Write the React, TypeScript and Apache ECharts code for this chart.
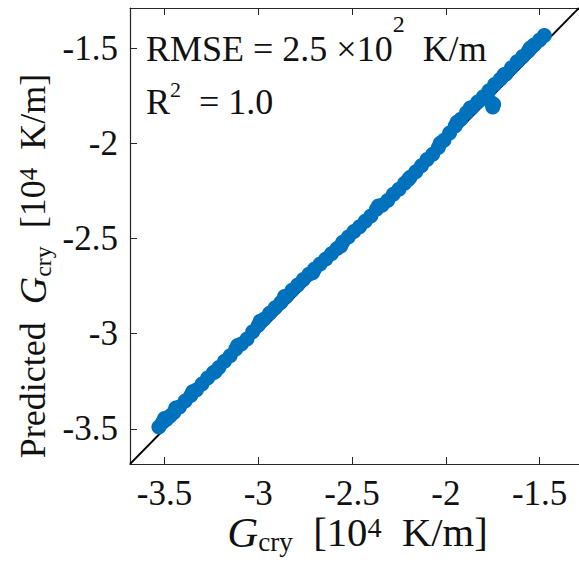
import React, { useEffect, useRef } from 'react';
import * as echarts from 'echarts';

const axisMin = -3.684;
const axisMax = -1.29;
const tickValues = [-3.5, -3, -2.5, -2, -1.5];

const actual = [
  -3.53, -3.51, -3.49, -3.47, -3.45, -3.42, -3.39, -3.36, -3.33, -3.3, -3.27, -3.24, -3.21, -3.18, -3.15,
  -3.12, -3.09, -3.06, -3.03, -3.0, -2.97, -2.94, -2.91, -2.88, -2.85, -2.82, -2.79, -2.76, -2.73, -2.7,
  -2.67, -2.64, -2.61, -2.58, -2.55, -2.52, -2.49, -2.46, -2.43, -2.4, -2.37, -2.34, -2.31, -2.28, -2.25,
  -2.22, -2.19, -2.16, -2.13, -2.1, -2.07, -2.04, -2.01, -1.98, -1.95, -1.92, -1.89, -1.86, -1.83, -1.8,
  -1.77, -1.74, -1.71, -1.68, -1.65, -1.62, -1.59, -1.56, -1.53, -1.5, -1.475, -1.75, -1.745, -1.76,
  -3.5, -3.44, -3.35, -3.23, -3.11, -2.99, -2.86, -2.71, -2.56, -2.36, -2.2, -2.03, -1.94, -1.87, -1.69, -1.55,
];
const predicted = [
  -3.49, -3.465, -3.45, -3.432, -3.414, -3.385, -3.353, -3.324, -3.296, -3.264, -3.232, -3.205, -3.177, -3.144, -3.116,
  -3.08, -3.054, -3.028, -2.99, -2.955, -2.924, -2.893, -2.864, -2.836, -2.804, -2.772, -2.744, -2.715, -2.688, -2.66,
  -2.634, -2.608, -2.58, -2.552, -2.52, -2.492, -2.464, -2.438, -2.41, -2.382, -2.346, -2.326, -2.3, -2.268, -2.242,
  -2.21, -2.178, -2.15, -2.118, -2.086, -2.058, -2.022, -1.984, -1.946, -1.91, -1.874, -1.84, -1.812, -1.784, -1.756,
  -1.724, -1.692, -1.664, -1.636, -1.604, -1.572, -1.544, -1.516, -1.484, -1.458, -1.435, -1.81, -1.795, -1.785,
  -3.445, -3.39, -3.305, -3.2, -3.062, -2.935, -2.805, -2.68, -2.54, -2.33, -2.19, -2.0, -1.89, -1.815, -1.64, -1.5,
];
const refLine = [axisMin, axisMax];

const serif = 'Liberation Serif, Times New Roman, serif';
const ink = '#111111';
const axisInk = '#262626';

function fmt(v: number) {
  return tickValues.some((t) => Math.abs(t - v) < 1e-6) ? String(v) : '';
}

function nameRich(scale: number) {
  const lh = 30;
  return {
    n: { fontFamily: serif, fontSize: 36 * scale, fill: ink, lineHeight: lh },
    i: { fontFamily: serif, fontSize: 38 * scale, fontStyle: 'italic', fill: ink, lineHeight: lh },
    sub: { fontFamily: serif, fontSize: 24 * scale, fill: ink, lineHeight: lh, padding: [20, 0, 0, 0] },
    sup: { fontFamily: serif, fontSize: 25 * scale, fill: ink, lineHeight: lh, padding: [0, 0, 10, 0] },
  };
}

export default function App() {
  const ref = useRef<HTMLDivElement>(null);
  useEffect(() => {
    const chart = echarts.init(ref.current!, null, { renderer: 'svg' });
    const axisCommon = {
      type: 'value' as const,
      min: axisMin,
      max: axisMax,
      splitNumber: 5,
      splitLine: { show: false },
      axisLine: { show: true, onZero: false, lineStyle: { color: axisInk, width: 1.2 } },
      axisTick: { show: true, inside: true, length: 7, lineStyle: { color: axisInk, width: 1 } },
    };
    const labelStyle = { fontFamily: serif, fontSize: 35, color: ink, formatter: fmt, showMinLabel: false, showMaxLabel: false };
    chart.setOption({
      animation: false,
      backgroundColor: '#ffffff',
      grid: { left: 130, top: 8, width: 455, height: 456, containLabel: false },
      xAxis: [
        { ...axisCommon, position: 'bottom', axisLabel: { ...labelStyle, margin: 14, lineHeight: 30 } },
        { ...axisCommon, position: 'top', axisLabel: { show: false } },
      ],
      yAxis: [
        { ...axisCommon, position: 'left', axisLabel: { ...labelStyle, margin: 12 } },
      ],
      series: [
        {
          type: 'line',
          data: refLine.map((v) => [v, v]),
          showSymbol: false,
          symbol: 'none',
          lineStyle: { color: '#000000', width: 1.8 },
          z: 1,
          silent: true,
        },
        {
          type: 'scatter',
          data: actual.map((a, k) => [a, predicted[k]]),
          symbolSize: 15,
          itemStyle: { color: '#0072BD', opacity: 1 },
          z: 2,
        },
      ],
      graphic: [
        {
          type: 'text',
          x: 146,
          y: 49,
          z: 10,
          style: {
            text: '{m|RMSE = 2.5 ×10}{s|2}{m|  K/m}',
            textAlign: 'left',
            textVerticalAlign: 'middle',
            rich: {
              m: { fontFamily: serif, fontSize: 36, fill: ink, lineHeight: 36 },
              s: { fontFamily: serif, fontSize: 24, fill: ink, lineHeight: 36, padding: [0, 0, 50, 0] },
            },
          },
        },
        {
          type: 'text',
          x: 146,
          y: 102,
          z: 10,
          style: {
            text: '{m|R}{s|2}{m|  = 1.0}',
            textAlign: 'left',
            textVerticalAlign: 'middle',
            rich: {
              m: { fontFamily: serif, fontSize: 36, fill: ink, lineHeight: 36 },
              s: { fontFamily: serif, fontSize: 22, fill: ink, lineHeight: 36, padding: [0, 0, 26, 0] },
            },
          },
        },
        {
          type: 'text',
          x: 357.5,
          y: 532,
          style: {
            text: '{i|G}{sub|cry}{n|  [10}{sup|4}{n|  K/m]}',
            textAlign: 'center',
            textVerticalAlign: 'middle',
            rich: nameRich(1.13),
          },
        },
        {
          type: 'text',
          x: 33,
          y: 266,
          rotation: Math.PI / 2,
          style: {
            text: '{n|Predicted  }{i|G}{sub|cry}{n|  [10}{sup|4}{n|  K/m]}',
            textAlign: 'center',
            textVerticalAlign: 'middle',
            rich: nameRich(1),
          },
        },
      ],
    });
    return () => chart.dispose();
  }, []);
  return (
    <div
      ref={ref}
      style={{ position: 'absolute', left: 0, top: 0, width: 579, height: 562, background: '#ffffff' }}
    />
  );
}
